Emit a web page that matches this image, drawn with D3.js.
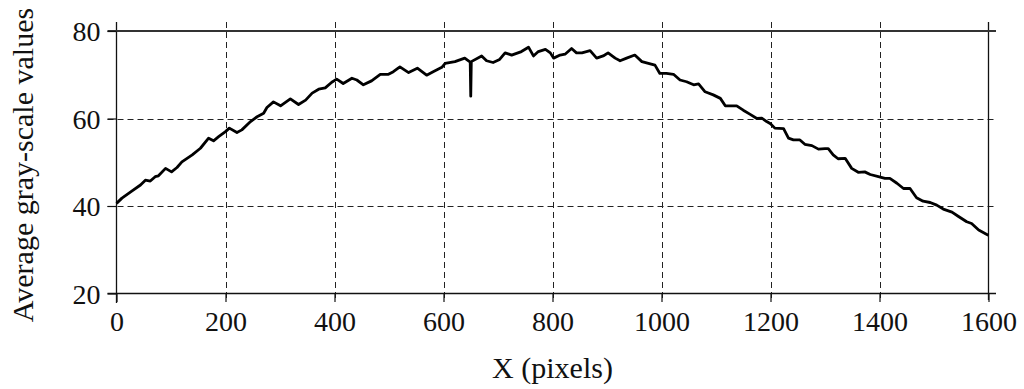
<!DOCTYPE html>
<html>
<head>
<meta charset="utf-8">
<script src="https://cdn.jsdelivr.net/npm/d3@7"></script>
<style>
  body { margin: 0; background: #fff; }
  svg text { font-family: "Liberation Serif", "Times New Roman", serif; fill: #111; }
</style>
</head>
<body>
<svg id="chart" width="1024" height="389"></svg>
<script>
// data
var xTicks = [0, 200, 400, 600, 800, 1000, 1200, 1400, 1600];
var yTicks = [20, 40, 60, 80];
var xVals = [0, 10, 28, 44, 53, 62, 71, 77, 90, 101, 111, 120, 139, 154, 169, 178, 188, 200, 207, 221,
  230, 246, 258, 270, 276, 288, 301, 319, 334, 347, 359, 371, 383, 395, 404, 416, 432, 441, 453, 468,
  484, 499, 508, 520, 536, 552, 569, 581, 597, 603, 621, 639, 649, 650, 651, 670, 679, 691, 703, 713,
  725, 743, 756, 765, 774, 787, 796, 802, 814, 823, 835, 844, 854, 869, 881, 893, 902, 915, 924, 936,
  951, 964, 976, 988, 997, 1009, 1022, 1034, 1046, 1059, 1068, 1080, 1095, 1108, 1117, 1138, 1150, 1162, 1175, 1184,
  1193, 1200, 1208, 1224, 1233, 1242, 1254, 1263, 1276, 1288, 1300, 1306, 1315, 1324, 1337, 1349, 1361, 1373, 1383, 1398,
  1410, 1419, 1432, 1444, 1456, 1468, 1480, 1493, 1505, 1517, 1533, 1545, 1560, 1569, 1582, 1597, 1600];
var yVals = [40.6, 41.8, 43.4, 44.8, 45.9, 45.7, 46.7, 46.9, 48.6, 47.8, 48.8, 50.1, 51.7, 53.2, 55.5, 54.9, 55.9, 57.0, 57.8, 56.8,
  57.4, 59.3, 60.4, 61.2, 62.5, 63.8, 62.9, 64.5, 63.2, 64.2, 65.8, 66.7, 67.0, 68.3, 69.0, 68.0, 69.2, 68.8, 67.7, 68.6,
  70.1, 70.1, 70.7, 71.8, 70.5, 71.5, 69.9, 70.7, 71.7, 72.6, 73.0, 73.8, 72.9, 65.1, 73.0, 74.3, 73.2, 72.8, 73.5, 75.0,
  74.5, 75.3, 76.3, 74.3, 75.3, 75.8, 75.0, 73.8, 74.5, 74.7, 76.0, 75.0, 75.0, 75.5, 73.8, 74.3, 75.0, 73.8, 73.2, 73.8,
  74.5, 73.0, 72.6, 72.2, 70.3, 70.3, 70.1, 68.8, 68.4, 67.7, 67.9, 66.1, 65.4, 64.6, 62.9, 62.9, 61.9, 61.0, 60.0, 60.1,
  59.3, 58.8, 57.8, 57.7, 55.5, 55.1, 55.1, 54.1, 53.8, 53.0, 53.1, 53.1, 51.7, 50.8, 50.9, 48.6, 47.7, 47.8, 47.2, 46.7,
  46.3, 46.3, 45.2, 44.0, 44.0, 41.9, 41.1, 40.8, 40.2, 39.3, 38.6, 37.6, 36.4, 36.0, 34.5, 33.5, 33.3];

var svg = d3.select("#chart");
var x = d3.scaleLinear().domain([0, 1600]).range([116.5, 988.5]);
var y = d3.scaleLinear().domain([20, 80]).range([293.5, 31]);

var gridTop = 22, gridBottom = 300, gridLeft = 107.5, gridRight = 996;

// dashed grid
var grid = svg.append("g").attr("stroke", "#222").attr("stroke-width", 1).attr("stroke-dasharray", "6,4");
grid.selectAll(".vg").data(xTicks.slice(1, -1)).enter().append("line")
    .attr("x1", d => Math.round(x(d)) + 0.5).attr("x2", d => Math.round(x(d)) + 0.5)
    .attr("y1", gridTop).attr("y2", gridBottom);
grid.selectAll(".hg").data(yTicks.slice(1, -1)).enter().append("line")
    .attr("x1", gridLeft).attr("x2", gridRight)
    .attr("y1", d => Math.round(y(d)) + 0.5).attr("y2", d => Math.round(y(d)) + 0.5);

// solid frame
var frame = svg.append("g").attr("stroke", "#111").attr("stroke-width", 1.3);
frame.append("line").attr("x1", x(0)).attr("x2", x(0)).attr("y1", gridTop).attr("y2", 303);
frame.append("line").attr("x1", x(1600)).attr("x2", x(1600)).attr("y1", gridTop).attr("y2", gridBottom);
frame.append("line").attr("x1", gridLeft).attr("x2", gridRight).attr("y1", y(20)).attr("y2", y(20));
frame.append("line").attr("x1", gridLeft).attr("x2", gridRight).attr("y1", y(80)).attr("y2", y(80))
    .attr("stroke", "#333").attr("stroke-width", 1.8);

// axes (labels + ticks)
var xAxis = svg.append("g").attr("transform", "translate(0," + y(20) + ")")
    .call(d3.axisBottom(x).tickValues(xTicks).tickSize(8.5).tickPadding(9).tickFormat(d3.format("d")));
var yAxis = svg.append("g").attr("transform", "translate(" + x(0) + ",0)")
    .call(d3.axisLeft(y).tickValues(yTicks).tickSize(9).tickPadding(7));
[xAxis, yAxis].forEach(function(a) {
  a.select(".domain").remove();
  a.selectAll("line").attr("stroke", "#111").attr("stroke-width", 1.2);
  a.selectAll("text").attr("font-size", 28).attr("font-family", "Liberation Serif").attr("fill", "#111");
});
yAxis.selectAll("text").attr("dy", "0.34em");

// data line
var line = d3.line().x((d, i) => x(xVals[i])).y((d, i) => y(yVals[i]));
svg.append("path").datum(yVals)
    .attr("fill", "none").attr("stroke", "#000").attr("stroke-width", 2.8)
    .attr("stroke-linejoin", "round")
    .attr("d", line);

// titles
svg.append("text").attr("x", (x(0) + x(1600)) / 2).attr("y", 378)
    .attr("text-anchor", "middle").attr("font-size", 30).text("X (pixels)");
svg.append("text").attr("transform", "translate(33,165) rotate(-90)")
    .attr("text-anchor", "middle").attr("font-size", 30).text("Average gray-scale values");
</script>
</body>
</html>
